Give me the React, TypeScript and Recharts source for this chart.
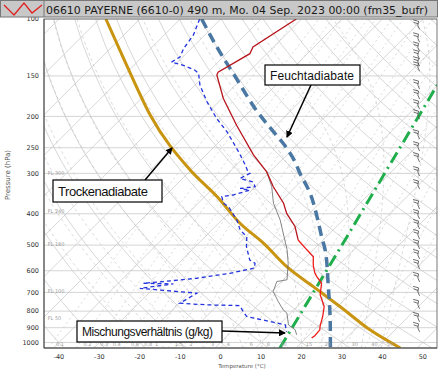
import React from "react";
import { ComposedChart, Line, Scatter, XAxis, YAxis, CartesianGrid } from "recharts";

const TITLE = "06610 PAYERNE (6610-0) 490 m, Mo. 04 Sep. 2023 00:00 (fm35_bufr)";

const pressureTicks = [100, 150, 200, 250, 300, 400, 500, 600, 700, 800, 900, 1000];
const tempTicks = [-40, -30, -20, -10, 0, 10, 20, 30, 40, 50];

// sounding, [pressure hPa, temperature °C]
const tempUpper: [number, number][] = [
  [100, -61.3], [122, -65.1], [128, -64.2], [146, -67.5], [149, -67.1], [176, -59.7],
  [213, -49.8], [263, -38.3], [297, -30.8], [330, -25.5], [371, -18.9], [399, -15.6],
  [438, -10.3], [482, -6.2],
];
const tempLower: [number, number][] = [
  [482, -6.2], [517, -1.6], [543, 1.7], [569, 3.3], [583, 4.2], [611, 6.2], [626, 7.5],
  [656, 10.3], [712, 12.8], [774, 16.7], [831, 18.8], [892, 20.6], [914, 21.4], [953, 21.6], [969, 21.4],
];
const greyProfile: [number, number][] = [
  [297, -30.8], [330, -25.9], [371, -21.4], [418, -15.6], [517, -6.5], [569, -2.9], [640, 0.9],
  [648, -1.2], [696, 0.4], [747, 4.1], [793, 7.4], [811, 9.1], [882, 12.4], [914, 15.3], [947, 16.9],
];
const dewpoint: [number, number][] = [
  [100, -85.2], [112, -82.8], [123, -81.9], [131, -80.7], [136, -81.5], [139, -77.8], [144, -73.7],
  [147, -72.1], [160, -68.8], [180, -63.0], [203, -56.4], [223, -50.6], [242, -46.1], [257, -42.8],
  [280, -38.3], [297, -35.4], [300, -34.6], [311, -35.8], [319, -31.7], [330, -30.0], [334, -33.3],
  [338, -30.5], [350, -33.4], [354, -35.8], [371, -33.8], [380, -31.7], [418, -26.3], [449, -23.0],
  [471, -19.7], [506, -17.3], [556, -13.2], [569, -11.1], [589, -10.1], [611, -14.8], [633, -21.8],
  [648, -29.3], [656, -33.8], [659, -26.2], [680, -33.4], [704, -18.1], [756, -19.8], [765, -12.8],
  [769, -4.4], [802, -2.1], [831, 0.0], [882, 11.6], [925, 13.6],
];

// highlighted reference lines
const moistHighlight: [number, number][] = [
  [100, -84.7], [121, -74.5], [153, -61.3], [189, -49.4], [223, -39.1], [251, -31.7], [283, -25.1],
  [293, -23.4], [371, -11.5], [471, -1.2], [556, 5.8], [672, 12.8], [871, 22.3], [1040, 28.5],
];
const dryHighlight: [number, number][] = [
  [100, -108.4], [139, -91.8], [198, -73.7], [293, -50.2], [354, -37.0], [428, -24.7], [493, -14.0],
  [583, -2.4], [672, 9.1], [774, 20.6], [914, 33.8], [1040, 45.8],
];
const mixingHighlight: [number, number][] = [[1040, 16.0], [482, 5.4], [160, -10.1]];

const windLevels = [
  104.6, 114.7, 122.4, 129.4, 136, 141, 160.1, 171.9, 184.6, 198.2, 228.6, 248.9, 269.2, 297.2,
  326.1, 375.8, 403.6, 433.3, 465.2, 499.6, 536.3, 575.7, 631.4, 697.3, 764.9, 839.2, 901,
];
const flightLevels = [
  { p: 300, label: "FL 300" }, { p: 393, label: "FL 240" }, { p: 500, label: "FL 180" },
  { p: 697, label: "FL 100" }, { p: 843, label: "FL 50" },
];

// diagram grid values
const isotherms = [-120, -110, -100, -90, -80, -70, -60, -50, -40, -30, -20, -10, 0, 10, 20, 30, 40, 50];
const dryThetas = [-40, -30, -20, -10, 0, 10, 20, 30, 40, 50, 60, 70, 80, 90, 100, 110, 120, 130, 140, 150, 160, 170, 180, 190, 200];
const moistThetas = [-20, -15, -10, -5, 0, 5, 10, 15, 20, 25, 30, 35, 40];
const mixingRatios = [0.1, 0.2, 0.3, 0.4, 0.6, 0.8, 1, 1.5, 2, 3, 4, 6, 8, 10, 15, 20, 30, 40, 50];

const SKEW = 80;
const X_MIN = -43.7;
const X_MAX = 53.5;
const P_TOP = 100;
const P_BOTTOM = 1040;

const toPoint = (p: number, t: number) => ({ x: t + SKEW * Math.log10(1000 / p), p });
const toSeries = (rows: [number, number][]) => rows.map(([p, t]) => toPoint(p, t));

const levels: number[] = [];
for (let p = P_BOTTOM; p >= P_TOP; p -= 20) levels.push(p);

const satVap = (t: number) => 6.112 * Math.exp((17.67 * t) / (t + 243.5));
const moistSlope = (p: number, t: number) => {
  const tk = t + 273.15;
  const e = satVap(t);
  const rs = (0.622 * e) / (p - e);
  const lv = 2.501e6;
  return (287.04 * tk + lv * rs) / (p * (1005.7 + (lv * lv * rs * 0.622) / (287.04 * tk * tk)));
};
const moistAdiabat = (t1000: number) => {
  let t = t1000;
  for (let p = 1000; p < P_BOTTOM; p += 20) {
    const k = moistSlope(p + 10, t + 10 * moistSlope(p, t));
    t += 20 * k;
  }
  const pts = [toPoint(P_BOTTOM, t)];
  for (let p = P_BOTTOM; p > P_TOP; p -= 10) {
    const k = moistSlope(p - 5, t - 5 * moistSlope(p, t));
    t -= 10 * k;
    pts.push(toPoint(p - 10, t));
  }
  return pts;
};
const dewFromMix = (w: number, p: number) => {
  const l = Math.log((p * w) / (622 + w) / 6.112);
  return (243.5 * l) / (17.67 - l);
};

const GridLabel = (props: any) => (
  <text x={props.cx} y={props.cy} fontSize={5} fill="#a0a0a0" fontFamily="DejaVu Sans" dominantBaseline="middle">
    {props.payload.label}
  </text>
);

const WindBarb = (props: any) => {
  const { cx, cy } = props;
  if (cx == null || cy == null) return null;
  return (
    <path
      d={`M${cx + 2},${cy + 4} Q${cx - 1},${cy} ${cx + 1},${cy - 4} L${cx - 4.5},${cy - 5.5} M${cx + 0.5},${cy - 1.5} L${cx - 4},${cy - 3}`}
      stroke="#4a4a4a"
      strokeWidth={0.8}
      fill="none"
    />
  );
};

const lineProps = { dataKey: "p", dot: false, activeDot: false, isAnimationActive: false, legendType: "none" as const };

export default function App() {
  const isoLines = isotherms.map((t) => [toPoint(P_BOTTOM, t), toPoint(P_TOP, t)]);
  const dryLines = dryThetas.map((th) =>
    levels.map((p) => toPoint(p, (th + 273.15) * Math.pow(p / 1000, 0.2857) - 273.15))
  );
  const moistLines = moistThetas.map((t) => moistAdiabat(t));
  const mixLines = mixingRatios.map((w) => levels.map((p) => toPoint(p, dewFromMix(w, p))));
  const mixLabels = mixingRatios.map((w) => ({ ...toPoint(1015, dewFromMix(w, 1015) + 1.2), label: String(w) }));
  const flLabels = flightLevels.map((f) => ({ x: X_MIN + 0.9, p: f.p, label: f.label }));
  const barbs = windLevels.map((p) => ({ x: 48.7, p }));

  return (
    <div style={{ position: "absolute", left: 0, top: 0, width: 440, height: 371, background: "#fff" }}>
      <ComposedChart width={440} height={371} margin={{ top: 19, right: 3, bottom: 0, left: 8 }}>
        <CartesianGrid vertical={false} stroke="#c9c9c9" strokeWidth={0.8} />
        <XAxis
          type="number"
          dataKey="x"
          domain={[X_MIN, X_MAX]}
          allowDataOverflow
          ticks={tempTicks}
          interval={0}
          height={23}
          tickLine={false}
          tickSize={3}
          tickMargin={3}
          axisLine={{ stroke: "#555" }}
          tick={{ fontSize: 6.5, fill: "#333", fontFamily: "DejaVu Sans" }}
        />
        <YAxis
          type="number"
          dataKey="p"
          scale="log"
          reversed
          domain={[P_TOP, P_BOTTOM]}
          allowDataOverflow
          ticks={pressureTicks}
          interval={0}
          width={36}
          tickLine={false}
          tickSize={3}
          tickMargin={2}
          axisLine={{ stroke: "#555" }}
          tick={{ fontSize: 6.5, fill: "#333", fontFamily: "DejaVu Sans" }}
        />
        {isoLines.map((d, i) => (
          <Line key={"iso" + i} data={d} {...lineProps} stroke="#c6c6c6" strokeWidth={0.7} />
        ))}
        {dryLines.map((d, i) => (
          <Line key={"dry" + i} data={d} {...lineProps} stroke="#c6c6c6" strokeWidth={0.7} />
        ))}
        {moistLines.map((d, i) => (
          <Line key={"moist" + i} data={d} {...lineProps} stroke="#c2c2c2" strokeWidth={0.6} strokeDasharray="3 3" />
        ))}
        {mixLines.map((d, i) => (
          <Line key={"mix" + i} data={d} {...lineProps} stroke="#c2c2c2" strokeWidth={0.6} strokeDasharray="2 3" />
        ))}
        <Scatter data={mixLabels} shape={GridLabel} isAnimationActive={false} />
        <Scatter data={flLabels} shape={GridLabel} isAnimationActive={false} />
        <Line data={toSeries(dryHighlight)} {...lineProps} type="monotone" stroke="#c9940f" strokeWidth={3} />
        <Line data={toSeries(moistHighlight)} {...lineProps} type="monotone" stroke="#4a78a2" strokeWidth={3.5} strokeDasharray="10 6" />
        <Line data={toSeries(mixingHighlight)} {...lineProps} stroke="#1fae4b" strokeWidth={3} strokeDasharray="12 5 2 5" />
        <Line data={toSeries(greyProfile)} {...lineProps} stroke="#666" strokeWidth={0.8} />
        <Line data={toSeries(tempUpper)} {...lineProps} stroke="#b8151d" strokeWidth={1.3} />
        <Line data={toSeries(tempLower)} {...lineProps} stroke="#ee1a1a" strokeWidth={1.3} />
        <Line data={toSeries(dewpoint)} {...lineProps} stroke="#2233dd" strokeWidth={1.3} strokeDasharray="4 3" />
        <Scatter data={barbs} shape={WindBarb} isAnimationActive={false} />
      </ComposedChart>
      <svg width={440} height={371} style={{ position: "absolute", left: 0, top: 0, pointerEvents: "none" }}>
        <defs>
          <marker id="ah" markerWidth={7} markerHeight={7} refX={6} refY={3.5} orient="auto" markerUnits="userSpaceOnUse">
            <path d="M0,0 L7,3.5 L0,7 z" fill="#000" />
          </marker>
        </defs>
        <rect x={44} y={19} width={393} height={329} fill="none" stroke="#555" strokeWidth={0.8} />
        <rect x={0.5} y={0.5} width={437} height={16.5} fill="#c8c8c8" stroke="#777" />
        <line x1={44} y1={1} x2={44} y2={17} stroke="#777" />
        <polyline points="4,5 14,15 24,3 32,13 42,5" fill="none" stroke="#e02020" strokeWidth={1.3} />
        <text x={46} y={14} fontSize={11} fill="#1a1a1a" fontFamily="DejaVu Sans" textLength={382} lengthAdjust="spacingAndGlyphs">
          {TITLE}
        </text>
        <text x={10} y={175} fontSize={7} fill="#555" fontFamily="DejaVu Sans" textAnchor="middle" transform="rotate(-90 10 175)">
          Pressure (hPa)
        </text>
        <text x={242} y={368} fontSize={5.5} fill="#555" fontFamily="DejaVu Sans" textAnchor="middle">
          Temperature (°C)
        </text>

        <line x1={311} y1={85} x2={287} y2={137} stroke="#000" strokeWidth={1.5} markerEnd="url(#ah)" />
        <rect x={265} y={65} width={95} height={20} fill="#fff" stroke="#000" strokeWidth={1.2} />
        <text x={270} y={80} fontSize={12} fontFamily="Liberation Sans" fill="#111" textLength={84}>Feuchtadiabate</text>

        <line x1={145} y1={180} x2={172} y2={148} stroke="#000" strokeWidth={1.5} markerEnd="url(#ah)" />
        <rect x={53} y={180} width={109} height={22} fill="#fff" stroke="#000" strokeWidth={1.2} />
        <text x={58} y={196} fontSize={13} fontFamily="Liberation Sans" fill="#111" textLength={90}>Trockenadiabate</text>

        <line x1={222} y1={331} x2={285} y2={333} stroke="#000" strokeWidth={1.5} markerEnd="url(#ah)" />
        <rect x={77} y={321} width={145} height={21} fill="#fff" stroke="#000" strokeWidth={1.2} />
        <text x={82} y={336} fontSize={12} fontFamily="Liberation Sans" fill="#111" textLength={131}>Mischungsverhältnis (g/kg)</text>
      </svg>
    </div>
  );
}
